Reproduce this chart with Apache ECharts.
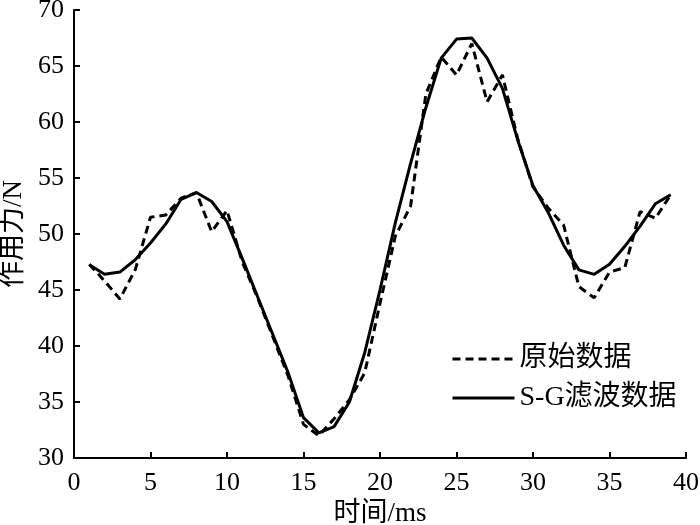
<!DOCTYPE html>
<html><head><meta charset="utf-8">
<script src="https://cdn.jsdelivr.net/npm/echarts@6/dist/echarts.min.js"></script>
<style>html,body{margin:0;padding:0;background:#fff}#c{width:700px;height:525px}</style>
</head><body><div id="c"></div>
<script>
const times = [1,2,3,4,5,6,7,8,9,10,11,12,13,14,15,16,17,18,19,20,21,22,23,24,25,26,27,28,29,30,31,32,33,34,35,36,37,38,39];
const rawData = [47.3,45.8,44.2,46.8,51.5,51.7,53.2,53.7,50.2,52.1,47.5,44.3,40.8,37.3,33.0,32.0,33.5,35.2,37.6,43.8,49.8,52.5,62.5,65.8,64.2,67.0,61.8,64.2,58.5,54.2,52.3,50.8,45.3,44.3,46.6,47.0,52.0,51.4,53.5];
const sgData = [47.25,46.4,46.6,47.7,49.2,50.9,53.1,53.7,52.9,51.1,47.8,44.4,41.0,37.6,33.6,32.25,32.8,35.0,39.4,45.0,51.0,56.3,61.3,65.7,67.4,67.5,65.7,63.0,58.4,54.3,51.9,49.0,46.8,46.4,47.3,48.9,50.7,52.7,53.5];
const xTicks = {min:0, max:40, interval:5};
const yTicks = {min:30, max:70, interval:5};
const names = ['原始数据','S-G滤波数据'];

const font = '"Liberation Serif","Noto Sans CJK SC",serif';
const chart = echarts.init(document.getElementById('c'));
chart.setOption({
  animation:false,
  backgroundColor:'#fff',
  grid:{left:74,right:14,top:10,bottom:67,containLabel:false,outerBoundsMode:'none'},
  legend:{
    orient:'vertical', left:446, top:340, itemWidth:62, itemHeight:14, itemGap:11,
    textStyle:{fontFamily:font,fontSize:28,color:'#000'},
    itemStyle:{opacity:0},
    lineStyle:{width:3},
    data:names
  },
  xAxis:{
    type:'value', min:xTicks.min, max:xTicks.max, interval:xTicks.interval,
    name:'时间/ms', nameLocation:'middle', nameGap:36,
    nameTextStyle:{fontFamily:font,fontSize:27,color:'#000'},
    axisLine:{lineStyle:{color:'#000',width:2}},
    axisTick:{inside:true,length:6,lineStyle:{color:'#000',width:2}},
    axisLabel:{fontFamily:font,fontSize:26,color:'#000',margin:12},
    splitLine:{show:false}
  },
  yAxis:{
    type:'value', min:yTicks.min, max:yTicks.max, interval:yTicks.interval,
    name:'作用力/N', nameLocation:'middle', nameGap:42, nameRotate:90,
    nameTextStyle:{fontFamily:font,fontSize:27,color:'#000'},
    axisLine:{show:true,lineStyle:{color:'#000',width:2}},
    axisTick:{show:true,inside:true,length:6,lineStyle:{color:'#000',width:2}},
    axisLabel:{fontFamily:font,fontSize:26,color:'#000',margin:10},
    splitLine:{show:false}
  },
  series:[
    {name:names[0], type:'line', symbol:'none', data:times.map((t,i)=>[t,rawData[i]]),
     lineStyle:{color:'#000',width:3,type:[8,5]}, itemStyle:{color:'#000'}, z:2},
    {name:names[1], type:'line', symbol:'none', data:times.map((t,i)=>[t,sgData[i]]),
     lineStyle:{color:'#000',width:3,type:'solid'}, itemStyle:{color:'#000'}, z:3}
  ]
});
</script></body></html>
